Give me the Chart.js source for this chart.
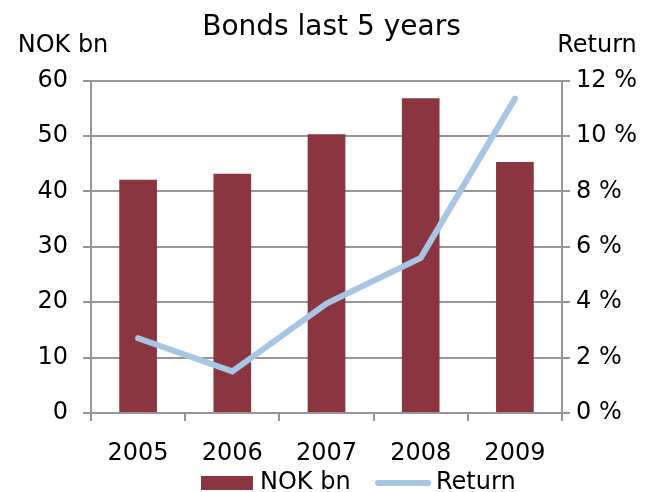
<!DOCTYPE html>
<html>
<head>
<meta charset="utf-8">
<script src="https://cdn.jsdelivr.net/npm/chart.js@4"></script>
<style>
  html, body { margin: 0; padding: 0; background: #fff; }
  #wrap { width: 663px; height: 492px; }
</style>
</head>
<body>
<div id="wrap"><canvas id="myChart" width="663" height="492"></canvas></div>
<script>
const years = ['2005', '2006', '2007', '2008', '2009'];
const nokBn = [42.1, 43.2, 50.3, 56.8, 45.3];
const returnPct = [2.7, 1.5, 3.95, 5.6, 11.35];

const barColor = '#8A3540';
const lineColor = '#A7C6E4';
const gridColor = '#969696';
const fontFamily = 'Verdana, "DejaVu Sans", sans-serif';

// axis titles above the axes + legend squeezed at the bottom edge
const extras = {
	id: 'extras',
	afterDraw(chart) {
		const c = chart.ctx;
		c.save();
		c.font = '24px ' + fontFamily;
		c.fillStyle = '#000';
		c.textBaseline = 'middle';
		c.textAlign = 'center';
		c.fillText('NOK bn', 63, 46);
		c.fillText('Return', 597, 46);

		const ly = 483;
		c.textAlign = 'left';
		c.fillStyle = barColor;
		c.fillRect(201, ly - 7, 52, 14);
		c.fillStyle = '#000';
		c.fillText(chart.data.datasets[1].label, 260, ly);
		c.strokeStyle = lineColor;
		c.lineWidth = 6;
		c.lineCap = 'round';
		c.beginPath();
		c.moveTo(378, ly);
		c.lineTo(428, ly);
		c.stroke();
		c.fillText(chart.data.datasets[0].label, 436, ly);
		c.restore();
	}
};

const ctx = document.getElementById('myChart').getContext('2d');
new Chart(ctx, {
	type: 'bar',
	data: {
		labels: years,
		datasets: [{
			type: 'line',
			label: 'Return',
			data: returnPct,
			yAxisID: 'y1',
			borderColor: lineColor,
			backgroundColor: lineColor,
			borderWidth: 6,
			borderCapStyle: 'round',
			pointRadius: 0,
			tension: 0,
			order: 0
		}, {
			label: 'NOK bn',
			data: nokBn,
			yAxisID: 'y',
			backgroundColor: barColor,
			barPercentage: 0.4,
			categoryPercentage: 1,
			order: 1
		}]
	},
	options: {
		responsive: false,
		animation: false,
		layout: { padding: 0 },
		plugins: {
			title: {
				display: true,
				text: 'Bonds last 5 years',
				color: '#000',
				font: { family: fontFamily, size: 28, weight: 'normal', lineHeight: 1.2 },
				padding: { top: 11, bottom: 36 }
			},
			legend: { display: false },
			tooltip: { enabled: false }
		},
		scales: {
			x: {
				grid: { display: true, drawOnChartArea: false, color: gridColor, lineWidth: 2, tickLength: 8, offset: true },
				border: { color: gridColor, width: 2 },
				ticks: { color: '#000', font: { family: fontFamily, size: 24 }, padding: 18 },
				afterFit(scale) { scale.height = 79; }
			},
			y: {
				position: 'left',
				min: 0, max: 60,
				ticks: { stepSize: 10, color: '#000', font: { family: fontFamily, size: 24 }, padding: 15 },
				grid: { color: gridColor, lineWidth: 2, tickLength: 8 },
				border: { color: gridColor, width: 2 },
				afterFit(scale) { scale.width = 91; }
			},
			y1: {
				position: 'right',
				min: 0, max: 12,
				ticks: {
					stepSize: 2, color: '#000', font: { family: fontFamily, size: 24 }, padding: 6,
					callback: (v) => v + ' %'
				},
				grid: { drawOnChartArea: false, color: gridColor, lineWidth: 2, tickLength: 8 },
				border: { color: gridColor, width: 2 },
				afterFit(scale) { scale.width = 101; }
			}
		}
	},
	plugins: [extras]
});
</script>
</body>
</html>
